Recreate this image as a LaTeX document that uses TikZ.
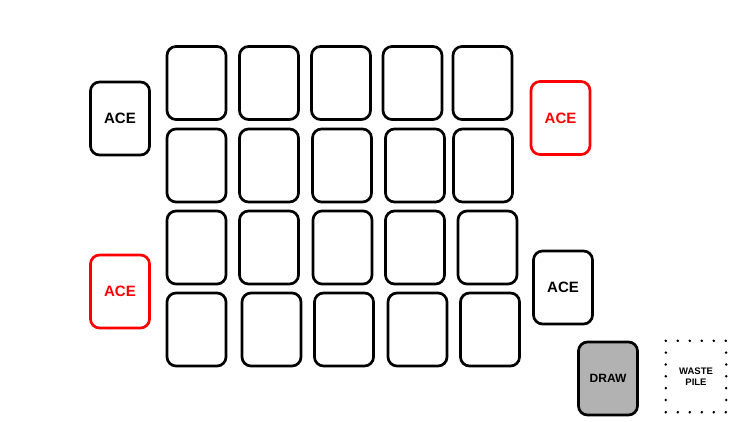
\documentclass[tikz,border=0pt]{standalone}
\usepackage{fontspec}
\setmainfont{Liberation Sans}
\begin{document}
\begin{tikzpicture}[x=1pt,y=1pt,
  card/.style={draw, line width=2.7pt, rounded corners=9pt, minimum width=59pt, minimum height=73pt, inner sep=0pt, font=\bfseries\fontsize{15}{15}\selectfont},
  redcard/.style={card, draw=red, text=red},
  drawpile/.style={card, fill=black!30, font=\bfseries\fontsize{12}{12}\selectfont},
  waste/.style={draw=none, minimum width=60pt, minimum height=71pt, inner sep=0pt, align=center, font=\bfseries\fontsize{9.5}{11}\selectfont},
  dot/.style={fill=black}]
\useasboundingbox (0,0) rectangle (750,-422);
% tableau
\foreach \x [count=\i] in {196.5,269,341,412.5,482.5} \node[card] (r1c\i) at (\x,-83) {};
\foreach \x [count=\i] in {196.5,269,342,415,483} \node[card] (r2c\i) at (\x,-165.5) {};
\foreach \x [count=\i] in {196.5,269,342.5,415,487.5} \node[card] (r3c\i) at (\x,-247.5) {};
\foreach \x [count=\i] in {196.5,271.5,344,417.5,490} \node[card] (r4c\i) at (\x,-329.5) {};
% aces
\node[card] (ace1) at (120,-118.5) {ACE};
\node[redcard] (ace2) at (560.5,-118) {ACE};
\node[redcard] (ace3) at (120,-291.5) {ACE};
\node[card] (ace4) at (563,-287.5) {ACE};
% draw and waste
\node[drawpile] (draw) at (608,-378.5) {DRAW};
\node[waste] (waste) at (696,-376.5) {WASTE\\PILE};
\foreach \i in {0,...,5} {
  \fill[dot] (waste.north west) ++(12*\i,0) circle (1.4);
  \fill[dot] (waste.south west) ++(12*\i,0) circle (1.4);
}
\foreach \i in {1,...,5} {
  \fill[dot] (waste.north west) ++(0,-71*\i/6) circle (1.4);
  \fill[dot] (waste.north east) ++(0,-71*\i/6) circle (1.4);
}
\end{tikzpicture}
\end{document}
